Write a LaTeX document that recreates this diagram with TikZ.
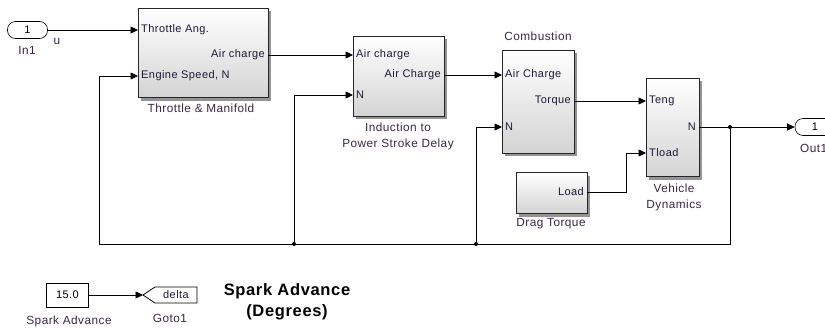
\documentclass[tikz,border=0pt]{standalone}
\usepackage{fontspec}
\usepackage{tikz}
\usetikzlibrary{arrows.meta, positioning, calc, shadows}
\newfontfamily\simfont{Liberation Sans}[LetterSpace=4]
\newcommand\portfont{\simfont\fontsize{11}{12}\selectfont}
\newcommand\capfont{\simfont\fontsize{11.8}{13}\selectfont}
\newcommand\bigfont{\simfont\bfseries\fontsize{16.5}{21}\selectfont}
\definecolor{portc}{HTML}{1A1A36}
\definecolor{titlec}{HTML}{3A2644}

\begin{document}
\begin{tikzpicture}[x=1pt, y=-1pt,
  blockbox/.style={rectangle, draw=black!85, line width=0.6pt, top color=white, bottom color=black!17, drop shadow={shadow xshift=3pt, shadow yshift=-3pt, fill=black!70, opacity=0.6}},
  portin/.style={anchor=west, font=\portfont, text=portc, inner xsep=3pt, inner ysep=1pt},
  portout/.style={anchor=east, font=\portfont, text=portc, inner xsep=3pt, inner ysep=1pt},
  caption/.style={font=\capfont, text=titlec, inner sep=1pt},
  iopill/.style={draw, line width=0.6pt, rounded corners=8pt, minimum width=40pt, minimum height=17pt, inner sep=0pt, font=\portfont},
  constbox/.style={draw, line width=0.6pt, fill=white, minimum width=42pt, minimum height=24pt, inner sep=0pt, font=\portfont},
  arrow/.style={-{Triangle[length=7.5pt, width=7pt]}, line width=0.7pt},
  wire/.style={line width=0.7pt}
]
\useasboundingbox (0,0) rectangle (825,329);

% blocks
\node[blockbox, minimum width=130pt, minimum height=89pt] (thr) at (203,53) {};
\node[blockbox, minimum width=91pt, minimum height=80pt] (ind) at (398.5,76) {};
\node[blockbox, minimum width=72pt, minimum height=103pt] (com) at (538,101.5) {};
\node[blockbox, minimum width=53pt, minimum height=98pt] (veh) at (672.5,127.5) {};
\node[blockbox, minimum width=71pt, minimum height=41pt] (drag) at (551.5,193) {};

% ports
\node[portin] (thrAng) at (138,30) {Throttle Ang.};
\node[portout] (thrAir) at (268,55) {Air charge};
\node[portin] (thrN) at (138,76) {Engine Speed, N};
\node[portin] (indAir) at (353,55) {Air charge};
\node[portout] (indOut) at (444,75) {Air Charge};
\node[portin] (indN) at (353,95) {N};
\node[portin] (comAir) at (502,75) {Air Charge};
\node[portout] (comTq) at (574,101) {Torque};
\node[portin] (comN) at (502,127) {N};
\node[portin] (vehTe) at (646,101) {Teng};
\node[portout] (vehN) at (699,127) {N};
\node[portin] (vehTl) at (646,153) {Tload};
\node[portout] (dragLoad) at (587,192) {Load};

% captions
\node[caption] at (201,108) {Throttle \& Manifold};
\node[caption] at (398,127) {Induction to};
\node[caption] at (398,144) {Power Stroke Delay};
\node[caption] at (538,36) {Combustion};
\node[caption] at (674,188) {Vehicle};
\node[caption] at (674,205) {Dynamics};
\node[caption] at (551,224) {Drag Torque};

% in / out
\node[iopill] (in1) at (27.5,30) {1};
\node[caption] at (27,50) {In1};
\node[caption] at (57,41) {u};
\node[iopill] (out1) at (815,127) {1};
\node[caption, anchor=west] at (799,148) {Out1};

% signals
\draw[arrow] (in1.east) -- (thrAng.west);
\draw[arrow] (thrAir.east) -- (indAir.west);
\draw[arrow] (indOut.east) -- (comAir.west);
\draw[arrow] (comTq.east) -- (vehTe.west);
\draw[arrow] (dragLoad.east) -- ++(39,0) |- (vehTl.west);
\draw[arrow] (vehN.east) -- (out1.west);

% feedback of N
\coordinate (split) at (730,127);
\coordinate (fbL) at (99,244);
\coordinate (tapA) at (294,244);
\coordinate (tapB) at (476,244);
\draw[arrow] (split) |- (fbL) |- (thrN.west);
\draw[arrow] (tapA) |- (indN.west);
\draw[arrow] (tapB) |- (comN.west);
\foreach \p in {split, tapA, tapB} \fill (\p) circle (2pt);

% spark advance
\node[constbox] (spark) at (67.5,295) {15.0};
\node[caption] at (69,321) {Spark Advance};
\coordinate (gotoTip) at (143,295);
\draw[wire, fill=white] (gotoTip) -- ++(12,-8) -- ++(42,0) -- ++(0,16) -- ++(-42,0) -- cycle;
\node[font=\portfont, text=portc] (delta) at (176,295) {delta};
\node[caption] at (170,318) {Goto1};
\draw[arrow] (spark.east) -- (gotoTip);
\node[font=\bigfont, align=center, text=black] at (287,302) {Spark Advance\\(Degrees)};
\end{tikzpicture}
\end{document}
